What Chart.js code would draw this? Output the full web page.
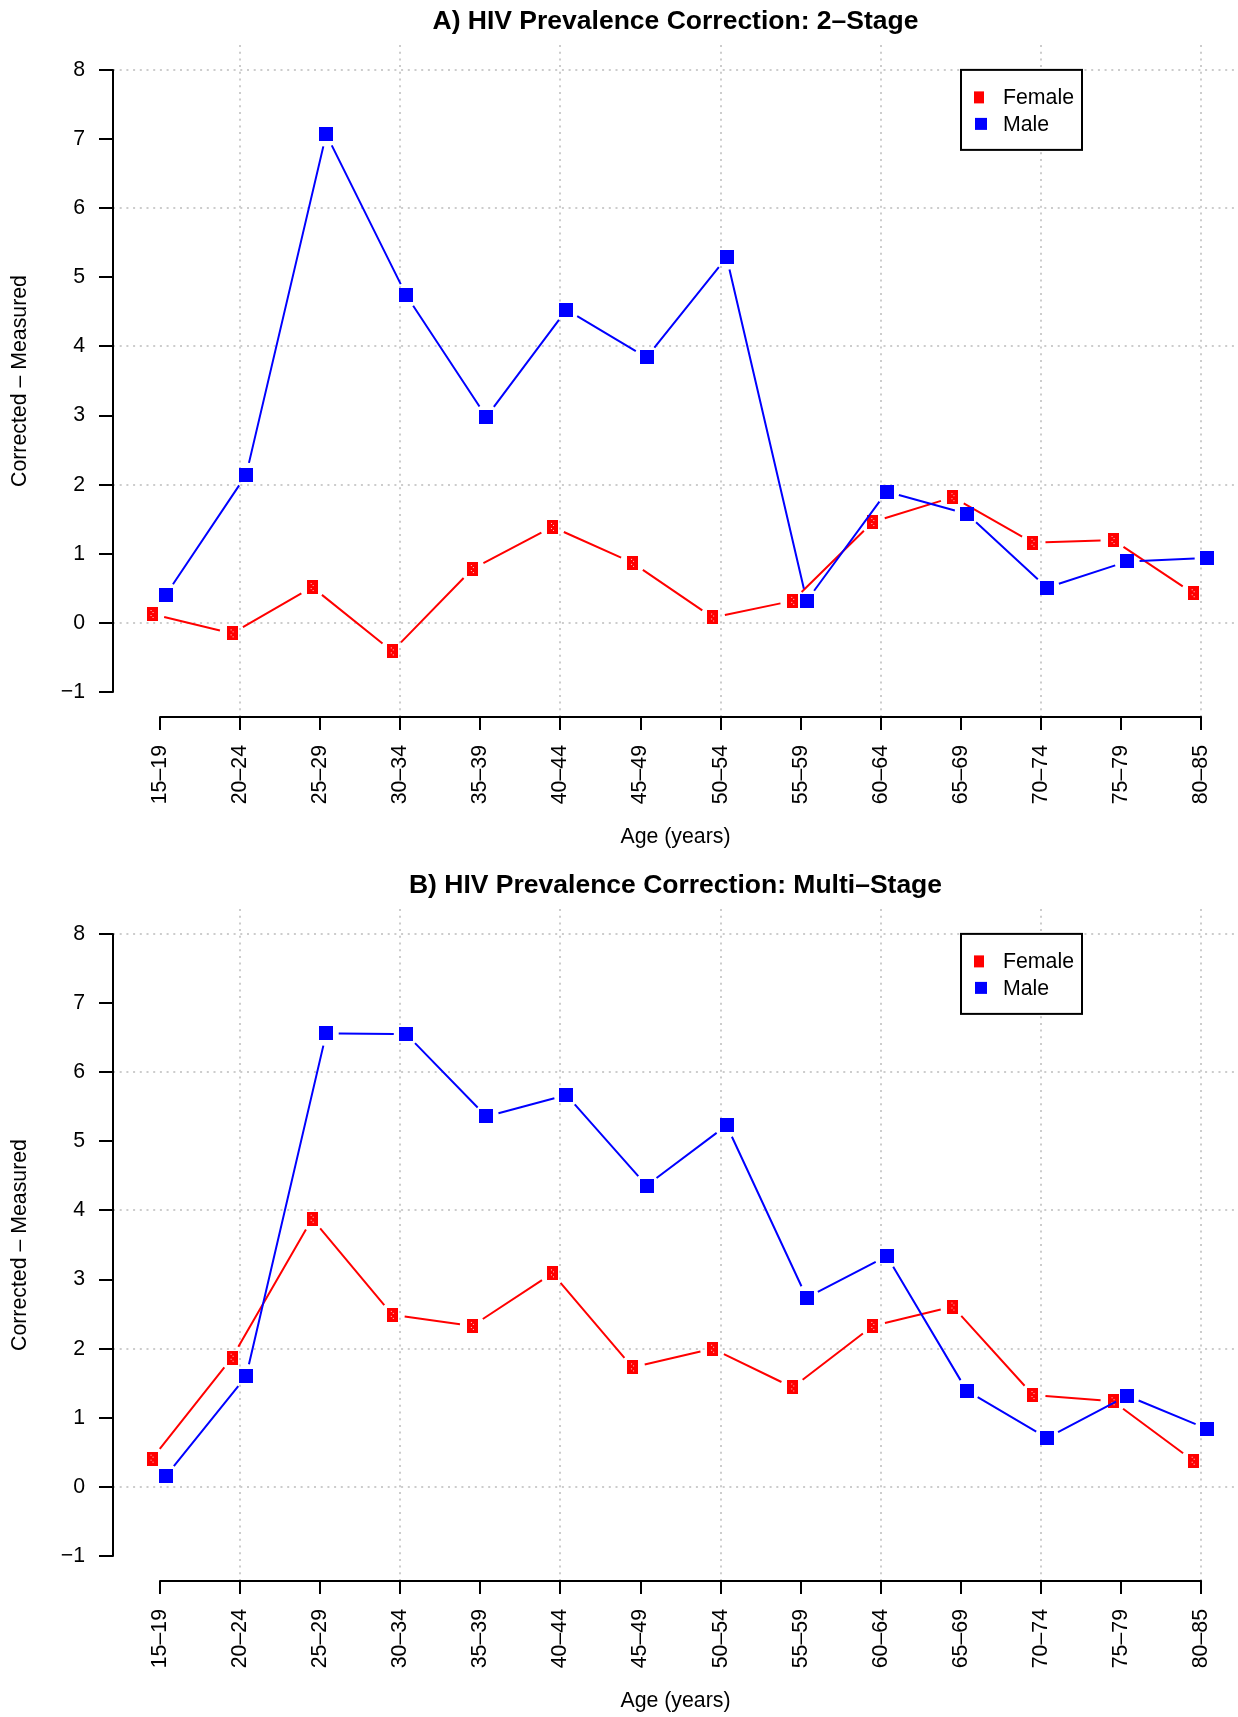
<!DOCTYPE html>
<html>
<head>
<meta charset="utf-8">
<title>HIV Prevalence Correction</title>
<script src="https://cdn.jsdelivr.net/npm/chart.js@4.4.0/dist/chart.umd.min.js"></script>
<style>
  html, body { margin: 0; padding: 0; background: #fff; overflow: hidden; }
  canvas { display: block; }
</style>
</head>
<body>
<canvas id="chartA" width="1238" height="864"></canvas>
<canvas id="chartB" width="1238" height="864"></canvas>
<script>
// Age groups along the x axis
const ageGroups = ["15–19", "20–24", "25–29", "30–34", "35–39", "40–44", "45–49",
  "50–54", "55–59", "60–64", "65–69", "70–74", "75–79", "80–85"];
const yTickValues = [-1, 0, 1, 2, 3, 4, 5, 6, 7, 8];

// A) 2-stage correction: corrected minus measured prevalence
const femaleTwoStage = [0.13, -0.15, 0.52, -0.41, 0.78, 1.39, 0.87, 0.08, 0.32, 1.46, 1.82, 1.16, 1.20, 0.43];
const maleTwoStage = [0.41, 2.14, 7.07, 4.74, 2.98, 4.53, 3.84, 5.29, 0.32, 1.90, 1.58, 0.51, 0.89, 0.94];

// B) multi-stage correction
const femaleMultiStage = [0.41, 1.87, 3.88, 2.49, 2.33, 3.09, 1.73, 2.00, 1.44, 2.33, 2.61, 1.33, 1.24, 0.38];
const maleMultiStage = [0.16, 1.60, 6.56, 6.55, 5.36, 5.67, 4.36, 5.23, 2.74, 3.34, 1.39, 0.71, 1.32, 0.84];

const FONT_FAMILY = "'Liberation Sans', Arial, Helvetica, sans-serif";
const BASE_FONT = { family: FONT_FAMILY, size: 21.3 };
const GRID_COLOR = "#cccccc";
const NONE = "rgba(0,0,0,0)";
const FEMALE_SHIFT = -0.1;
const MALE_SHIFT = 0.075;

// small bitmap markers (red one has a faint dotted texture like the original)
function makeMarker(w, h, color, dots) {
  const c = document.createElement("canvas");
  c.width = w;
  c.height = h;
  const g = c.getContext("2d");
  g.fillStyle = color;
  g.fillRect(0, 0, w, h);
  if (dots) {
    g.fillStyle = "rgba(255,255,255,0.85)";
    dots.forEach(([x, y]) => g.fillRect(x, y, 1, 1));
  }
  return c;
}
const femaleMarker = makeMarker(11, 14, "#ff0000", [[4, 3], [6, 5], [4, 8], [6, 10]]);
const maleMarker = makeMarker(14, 14, "#0000ff");

// R style "b" lines: segments stop short of each point
const gapLines = {
  id: "gapLines",
  beforeDatasetDraw(chart, args) {
    const ds = chart.data.datasets[args.index];
    const pts = args.meta.data;
    const ctx = chart.ctx;
    const gap = 12.5;
    ctx.save();
    ctx.strokeStyle = ds.borderColor;
    ctx.lineWidth = 2;
    ctx.beginPath();
    for (let i = 1; i < pts.length; i++) {
      const a = pts[i - 1];
      const b = pts[i];
      const dx = b.x - a.x;
      const dy = b.y - a.y;
      const len = Math.hypot(dx, dy);
      if (len <= 2 * gap) continue;
      const ux = dx / len;
      const uy = dy / len;
      ctx.moveTo(a.x + ux * gap, a.y + uy * gap);
      ctx.lineTo(b.x - ux * gap, b.y - uy * gap);
    }
    ctx.stroke();
    ctx.restore();
  },
};

// axis lines only span first to last tick, like base R axis()
const axisLines = {
  id: "axisLines",
  afterDraw(chart) {
    const { ctx, chartArea, scales } = chart;
    ctx.save();
    ctx.strokeStyle = "#000";
    ctx.lineWidth = 2;
    ctx.lineCap = "round";
    ctx.beginPath();
    ctx.moveTo(chartArea.left, scales.y.getPixelForValue(yTickValues[0]));
    ctx.lineTo(chartArea.left, scales.y.getPixelForValue(yTickValues[yTickValues.length - 1]));
    ctx.moveTo(scales.x.getPixelForValue(1), chartArea.bottom);
    ctx.lineTo(scales.x.getPixelForValue(ageGroups.length), chartArea.bottom);
    ctx.stroke();
    ctx.restore();
  },
};

// boxed legend in the top right corner
const boxLegend = {
  id: "boxLegend",
  afterDraw(chart) {
    const { ctx, chartArea, scales } = chart;
    const left = chartArea.right - 277;
    const top = scales.y.getPixelForValue(yTickValues[yTickValues.length - 1]);
    const w = 121;
    const h = 80;
    ctx.save();
    ctx.fillStyle = "#fff";
    ctx.fillRect(left, top, w, h);
    ctx.strokeStyle = "#000";
    ctx.lineWidth = 2;
    ctx.strokeRect(left, top, w, h);
    ctx.font = `${BASE_FONT.size}px ${FONT_FAMILY}`;
    ctx.textBaseline = "middle";
    ctx.textAlign = "left";
    const keys = [
      { mw: 10, mh: 12, mx: 18 },
      { mw: 12, mh: 12, mx: 20 },
    ];
    chart.data.datasets.forEach((ds, i) => {
      const cy = top + 27.5 + i * 26.5;
      const k = keys[i];
      ctx.fillStyle = ds.backgroundColor;
      ctx.fillRect(left + k.mx - k.mw / 2, cy - k.mh / 2, k.mw, k.mh);
      ctx.fillStyle = "#000";
      ctx.fillText(ds.label, left + 42, cy + 1);
    });
    ctx.restore();
  },
};

function evenGrid(c) {
  return c.tick && c.tick.value % 2 === 0 ? GRID_COLOR : NONE;
}

function panelConfig(title, female, male) {
  return {
    type: "scatter",
    data: {
      datasets: [
        {
          label: "Female",
          data: female.map((v, i) => ({ x: i + 1 + FEMALE_SHIFT, y: v })),
          borderColor: "#ff0000",
          backgroundColor: "#ff0000",
          pointStyle: femaleMarker,
          pointRadius: 7,
          showLine: false,
          order: 1,
        },
        {
          label: "Male",
          data: male.map((v, i) => ({ x: i + 1 + MALE_SHIFT, y: v })),
          borderColor: "#0000ff",
          backgroundColor: "#0000ff",
          pointStyle: maleMarker,
          pointRadius: 7,
          showLine: false,
          order: 0,
        },
      ],
    },
    options: {
      responsive: false,
      animation: false,
      events: [],
      layout: { autoPadding: false, padding: { left: 0, right: 0, top: 0, bottom: 7 } },
      plugins: {
        legend: { display: false },
        tooltip: { enabled: false },
        title: {
          display: true,
          text: title,
          fullSize: false,
          color: "#000",
          font: { family: FONT_FAMILY, size: 26.5, weight: "bold" },
          padding: { top: 6.1, bottom: 7.1 },
        },
      },
      scales: {
        x: {
          type: "linear",
          min: 0.413,
          max: 14.46,
          afterBuildTicks: (s) => {
            s.ticks = ageGroups.map((_, i) => ({ value: i + 1 }));
          },
          afterFit: (s) => {
            s.height = 140;
            s.paddingLeft = 0;
            s.paddingRight = 0;
          },
          grid: {
            color: evenGrid,
            lineWidth: 2,
            drawTicks: true,
            tickLength: 13,
            tickColor: "#000",
            tickWidth: 2,
          },
          border: { display: false, dash: [2, 4.7] },
          ticks: {
            autoSkip: false,
            minRotation: 90,
            maxRotation: 90,
            padding: 15,
            color: "#000",
            font: BASE_FONT,
            callback: (v) => ageGroups[v - 1],
          },
          title: {
            display: true,
            text: "Age (years)",
            color: "#000",
            font: BASE_FONT,
            padding: { top: 0, bottom: 7.2 },
          },
        },
        y: {
          type: "linear",
          min: -1.36,
          max: 8.36,
          afterBuildTicks: (s) => {
            s.ticks = yTickValues.map((v) => ({ value: v }));
          },
          afterFit: (s) => {
            s.width = 113;
            s.paddingTop = 0;
            s.paddingBottom = 0;
          },
          grid: {
            color: evenGrid,
            lineWidth: 2,
            drawTicks: true,
            tickLength: 14,
            tickColor: "#000",
            tickWidth: 2,
          },
          border: { display: false, dash: [2, 4.7] },
          ticks: {
            padding: 14,
            color: "#000",
            font: BASE_FONT,
            callback: (v) => (v < 0 ? "\u2212" + Math.abs(v) : String(v)),
          },
          title: {
            display: true,
            text: "Corrected – Measured",
            color: "#000",
            font: BASE_FONT,
            padding: { top: 7.2, bottom: 0 },
          },
        },
      },
    },
    plugins: [gapLines, axisLines, boxLegend],
  };
}

new Chart(document.getElementById("chartA"),
  panelConfig("A) HIV Prevalence Correction: 2–Stage", femaleTwoStage, maleTwoStage));
new Chart(document.getElementById("chartB"),
  panelConfig("B) HIV Prevalence Correction: Multi–Stage", femaleMultiStage, maleMultiStage));
</script>
</body>
</html>
